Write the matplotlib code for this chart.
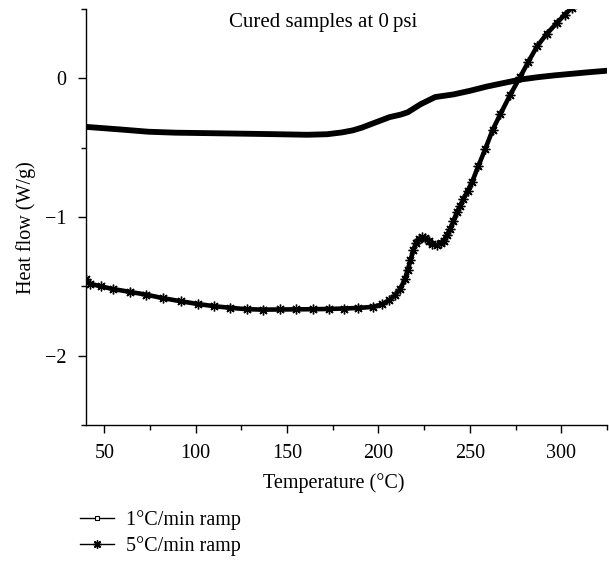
import matplotlib
matplotlib.use("Agg")
import matplotlib.pyplot as plt
from matplotlib.lines import Line2D
from matplotlib.ticker import MultipleLocator

# ---- data ----
temp_1c = [40, 50, 60, 74, 89, 105, 120, 140, 161, 172, 180, 186, 191, 198, 206,
           212, 216, 223, 231, 241, 250, 259, 268, 278, 287, 296, 305, 315, 325]
heat_1c = [-0.35, -0.36, -0.37, -0.385, -0.392, -0.395, -0.398, -0.402, -0.407,
           -0.403, -0.39, -0.375, -0.355, -0.32, -0.28, -0.262, -0.245, -0.187,
           -0.135, -0.116, -0.09, -0.06, -0.035, -0.008, 0.008, 0.021, 0.032,
           0.044, 0.055]

temp_5c = [40, 42, 48, 55, 64, 73, 82, 92, 101, 110, 119, 128, 137, 146, 155, 164,
           173, 181, 189, 197, 202, 206, 209, 212, 214.5, 216, 217.5, 219, 220.5,
           222, 223.7, 225.5, 227.4, 229.5, 232, 234, 235.6, 237.5, 239.2, 241,
           242.9, 244.7, 246.5, 248.8, 251.1, 254.7, 258.4, 262.5, 266.6, 272,
           277.5, 282, 286.7, 292, 297.6, 302, 305.8]
heat_5c = [-1.45, -1.48, -1.50, -1.52, -1.54, -1.56, -1.585, -1.608, -1.627, -1.643,
           -1.655, -1.665, -1.668, -1.667, -1.666, -1.665, -1.663, -1.66, -1.656,
           -1.648, -1.63, -1.60, -1.565, -1.517, -1.445, -1.38, -1.313, -1.24,
           -1.19, -1.16, -1.145, -1.15, -1.17, -1.195, -1.205, -1.19, -1.17, -1.13,
           -1.086, -1.03, -0.966, -0.92, -0.87, -0.81, -0.75, -0.63, -0.51, -0.37,
           -0.26, -0.12, 0.01, 0.12, 0.23, 0.32, 0.40, 0.46, 0.51]

labels = ["1\u00b0C/min ramp", "5\u00b0C/min ramp"]
title = "Cured samples at 0\u2009psi"
xlabel = "Temperature (\u00b0C)"
ylabel = "Heat flow (W/g)"
xticks = [50, 100, 150, 200, 250, 300]
yticks = [0, -1, -2]

# ---- style ----
plt.rcParams['font.family'] = ['Liberation Serif', 'DejaVu Serif']
plt.rcParams['font.size'] = 14.5
plt.rcParams['axes.unicode_minus'] = True

fig = plt.figure(figsize=(6.09, 5.63), dpi=100)
ax = fig.add_axes([86/609, 1-425/563, 521/609, 416/563])

star = (8, 2, 0)
ax.plot(temp_1c, heat_1c, color='black', lw=4.2, solid_capstyle='round',
        solid_joinstyle='round')
ax.plot(temp_5c, heat_5c, color='black', lw=3.3, solid_joinstyle='round',
        marker=star, ms=7, mew=1.0)

ax.set_xlim(40, 325)
ax.set_ylim(-2.5, 0.5)
ax.set_xticks(xticks)
ax.set_yticks(yticks)
ax.xaxis.set_minor_locator(MultipleLocator(25))
ax.yaxis.set_minor_locator(MultipleLocator(0.5))
ax.tick_params(which='major', direction='out', length=6, width=1.0, pad=8)
ax.tick_params(which='minor', direction='out', length=3.5, width=1.0)
for s in ['top', 'right']:
    ax.spines[s].set_visible(False)
for s in ['left', 'bottom']:
    ax.spines[s].set_linewidth(1.0)

ax.set_xlabel(xlabel)
ax.xaxis.label.set_va('center')
ax.xaxis.set_label_coords((334-86)/521, (425-483)/416)
ax.set_ylabel(ylabel)
ax.yaxis.label.set_va('center')
ax.yaxis.set_label_coords((26-86)/521, (425-228)/416)

fig.text(323/609, 1-22/563, title, ha='center', va='center', fontsize=15)

handles = [
    Line2D([], [], color='black', lw=1.0, marker='s', ms=3.5, mfc='white', mew=0.8),
    Line2D([], [], color='black', lw=1.0, marker=star, ms=6, mew=1.0),
]
fig.legend(handles, labels, loc='upper left', bbox_to_anchor=(80/609, 1-510/563),
           frameon=False, handlelength=1.7, handletextpad=0.6, labelspacing=0.3,
           borderpad=0, borderaxespad=0)

fig.savefig("out.png", dpi=100)
